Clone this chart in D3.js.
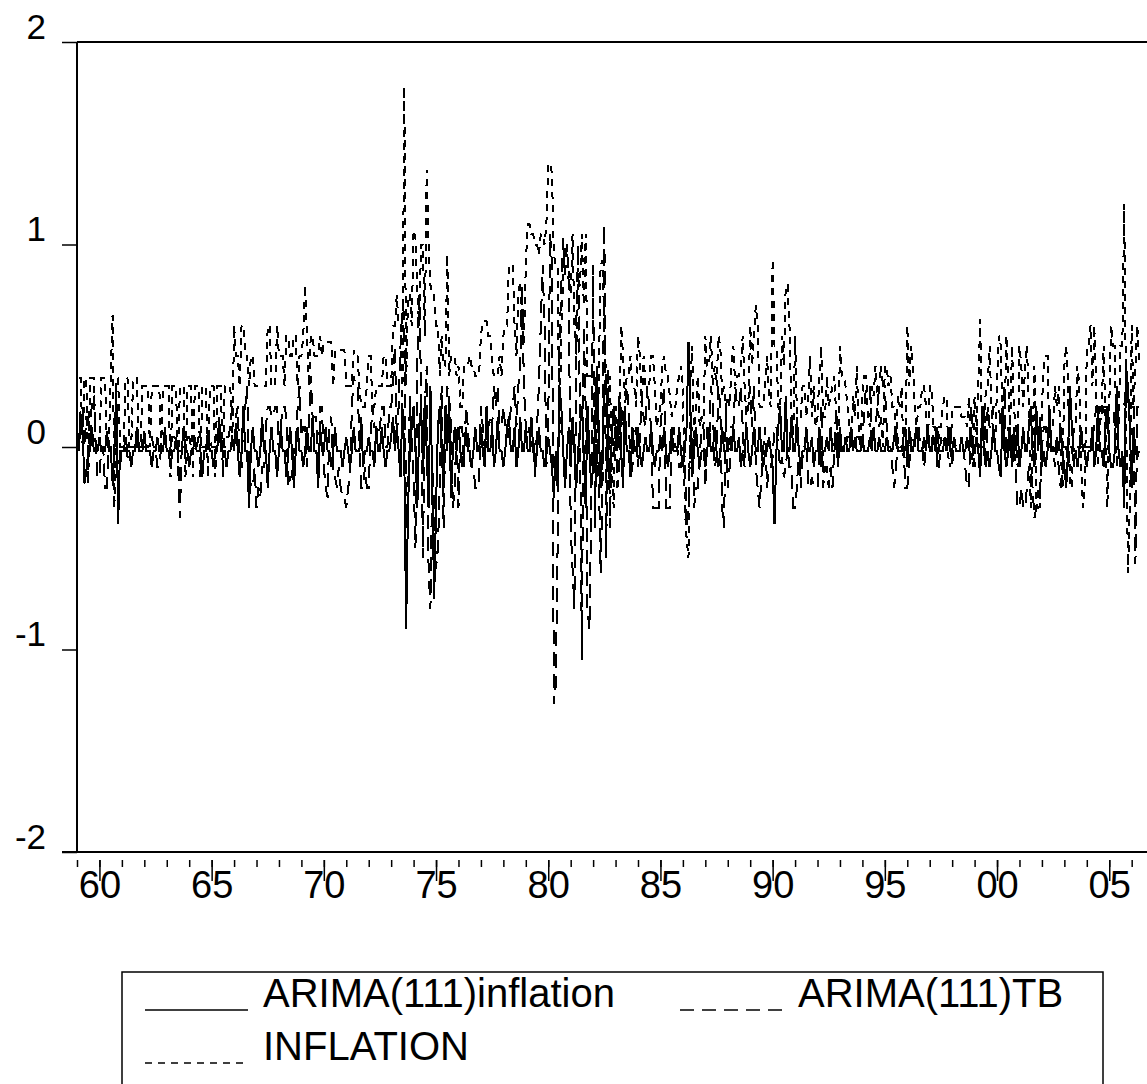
<!DOCTYPE html>
<html>
<head>
<meta charset="utf-8">
<script src="https://cdn.jsdelivr.net/npm/d3@7"></script>
<style>
body { margin: 0; background: #fff; }
text { font-family: "Liberation Sans", Arial, sans-serif; fill: #000; }
</style>
</head>
<body>
<svg id="chart" width="1147" height="1084"></svg>
<script>
// monthly data, one row per year, first row 1959 starts in February
var firstYear = 1959;

var inflation = [
  [.34,.34,0,.34,.34,-.18,.34,.34,.34,0,0],
  [0,.34,.34,.34,0,0,.34,.65,-.3,.34,.34,0],
  [0,0,.34,.34,0,0,.34,.34,.34,0,0,.3],
  [.3,.3,.3,0,.3,.3,.3,.3,.3,0,.3,.3],
  [.3,.3,-.15,.3,.3,.3,-.15,.3,.3,.3,-.15,.3],
  [.3,.3,-.15,.3,.3,.3,-.15,.3,.3,.3,-.15,.3],
  [.3,.3,-.15,.3,.3,.3,-.15,.3,.3,.3,.3,0],
  [.6,.45,.45,.3,.6,.6,.45,.45,.3,.45,.45,.3],
  [.3,.3,.3,.3,.3,.3,.6,.6,.3,.3,.3,.6],
  [.45,.45,.45,.3,.55,.55,.45,.45,.55,.55,.3,.45],
  [.45,.55,.8,.55,.3,.55,.55,.45,.45,.45,.55,.45],
  [.52,.52,.52,.52,.52,.3,.48,.48,.48,.48,.48,.48],
  [.3,.3,.3,.3,.48,.45,.45,.3,.2,.2,.2,.3],
  [.45,.45,.2,.2,.3,.3,.3,.3,.45,.45,.3,.3],
  [.3,.6,.6,.75,.6,.6,.2,1.78,.3,.75,.75,.6],
  [1.07,1.03,.75,.6,1,1,.55,1.37,1,.8,.75,.75],
  [.6,.6,.35,.55,.4,.4,.95,.35,.45,.45,.45,.35],
  [.4,.2,.2,.4,.4,.4,.45,.4,.4,.35,.35,.35],
  [.55,.62,.62,.62,.55,.55,.4,.35,.35,.35,.45,.35],
  [.55,.6,.6,.9,.9,.9,.6,.45,.75,.82,.6,.5],
  [.9,1.1,1.1,1.05,1.05,1,1,.95,1.05,1.05,1,1.1],
  [1.4,1.4,1.35,.95,.9,.9,.05,.6,.85,1,1,.85],
  [.75,1.05,.6,.45,.8,.8,1.05,.7,1.05,.35,.35,.35],
  [.35,.35,-.15,.3,.9,.92,.6,.3,.25,.35,-.1,-.3],
  [.2,0,.1,.6,.45,.25,.35,.35,.45,.3,.3,.2],
  [.55,.45,.2,.45,.3,.3,.3,.45,.45,.3,.1,.15],
  [.2,.4,.45,.35,.35,.25,.15,.2,.2,.3,.35,.4],
  [.3,-.3,-.45,-.55,.3,.5,0,.2,.35,.1,.15,.1],
  [.55,.4,.4,.55,.3,.4,.3,.55,.5,.25,.3,.2],
  [.25,.2,.4,.5,.3,.35,.35,.4,.55,.3,.15,.2],
  [.6,.4,.55,.7,.6,.2,.2,.2,.3,.45,.25,.2],
  [.93,.5,.5,.2,.15,.55,.4,.8,.8,.6,.2,.05],
  [.55,.15,.15,.15,.3,.3,.15,.25,.45,.15,.3,.1],
  [.15,.35,.5,.15,.15,.35,.2,.25,.3,.35,.15,-.05],
  [.5,.35,.35,.3,.2,.1,0,.25,.15,.4,.1,0],
  [.25,.35,.35,.15,.1,.3,.25,.4,.25,.1,.15,0],
  [.4,.4,.3,.35,.2,.2,0,.25,.2,.3,-.05,-.05],
  [.6,.3,.5,.4,.2,.1,.2,.2,.3,.3,.2,0],
  [.3,.3,.1,.1,-.1,.1,.1,.2,.25,.25,-.05,-.1],
  [.2,.2,.2,.2,.2,.15,.15,.15,.1,.25,0,-.1],
  [.25,.1,.3,.63,0,0,.3,.3,.5,.2,.05,0],
  [.3,.55,.5,.1,.1,.55,.3,.1,.5,.2,.1,-.1],
  [.5,.4,.2,.4,.5,.2,-.3,0,.4,-.3,-.2,-.3],
  [.2,.4,.45,.45,0,.1,.1,.3,.2,.3,0,-.2],
  [.4,.5,.3,-.2,-.2,.1,.1,.4,.3,-.1,-.3,-.2],
  [.5,.5,.6,.3,.6,.3,-.1,.1,.2,.5,.1,-.3],
  [.2,.6,.5,.5,-.1,.1,.5,.5,1.2,.2,-.62,-.3],
  [.6,.2,.4,.6,.4]
];

var arimaTB = [
  [0,.2,.2,0,.15,.15,0,.25,.25,0,-.15],
  [-.15,0,0,-.2,-.2,0,0,-.2,0,0,-.1,-.1],
  [0,0,0,-.05,-.05,0,0,0,0,.05,.05,0],
  [0,0,0,.05,.05,0,0,-.1,-.1,0,0,0],
  [0,0,0,.05,.05,0,0,-.35,0,0,0,.05],
  [.05,0,0,0,0,.05,.05,0,0,0,.05,.05],
  [0,0,0,0,.05,.05,0,0,.05,.05,.1,.2],
  [.15,.15,.2,-.1,-.1,.15,.2,.3,-.1,-.2,-.2,-.1],
  [-.3,-.2,-.25,-.1,-.1,.1,.2,.2,.15,.15,.2,.2],
  [-.05,.1,.2,.2,.15,-.2,-.15,-.15,0,0,.2,.3],
  [.05,.1,.1,-.1,.1,.35,.15,.15,.15,-.2,.2,.2],
  [-.1,-.2,-.25,.1,.15,-.15,-.15,-.2,-.1,-.2,-.25,-.25],
  [-.3,-.2,-.15,.2,.35,.3,.3,.05,-.2,-.2,-.1,-.2],
  [-.2,.05,.2,.1,.1,.05,.1,.2,.2,0,0,.2],
  [.2,.3,.5,.05,.2,.5,.7,.65,-.4,-.3,.25,.05],
  [-.15,-.5,.45,.75,.3,-.55,.2,.4,-.6,-.8,-.1,-.3],
  [-.6,-.5,-.2,.3,-.4,.1,.3,.25,.1,-.3,-.2,.1],
  [-.3,.1,.1,-.1,.2,.1,-.05,-.1,-.1,-.2,-.2,-.2],
  [.2,.1,0,0,.1,.15,.1,.3,.2,.3,.1,.1],
  [.2,.1,.05,.05,.2,.2,.3,.1,.3,.4,.8,.3],
  [.1,.05,.1,0,.05,-.15,.1,.3,.6,.9,.6,-.1],
  [.1,1.05,.9,-1.27,-1.18,-.5,.5,.8,1.03,.85,1,.8],
  [-.4,-.6,-.8,.6,1,.1,-1.05,.6,.2,-.8,-.9,-.3],
  [.9,-.4,.3,-.1,-.62,-.2,1.1,-.55,.4,-.4,.1,-.05],
  [.1,-.2,-.1,.2,.1,.2,.3,.2,-.15,-.1,.05,.1],
  [-.1,.05,.25,.15,.1,.3,.2,.1,-.3,-.3,-.3,-.3],
  [.1,.2,.3,-.3,-.3,-.3,.05,.1,0,0,-.1,-.1],
  [0,-.05,-.4,-.3,.05,.1,-.3,-.2,-.2,-.05,.1,.1],
  [-.2,.1,0,.3,.2,-.1,-.05,.3,.2,-.3,-.4,.2],
  [-.2,-.1,.1,.1,.3,.2,.2,.3,.1,-.1,.2,.2],
  [.3,.1,.3,-.1,-.2,-.3,-.15,0,.1,-.2,-.1,-.1],
  [-.05,.1,.1,0,-.1,-.05,-.15,-.1,0,-.1,-.1,-.3],
  [-.3,-.2,0,-.2,-.05,0,.05,-.2,-.2,-.15,-.2,-.2],
  [-.2,0,.2,-.2,-.1,-.1,-.2,-.1,-.2,0,.2,-.1],
  [0,0,0,0,.05,.05,0,0,0,.05,.05,0],
  [0,.2,.3,.3,.3,0,.1,.1,.2,.3,.4,.3],
  [.3,.1,0,0,-.1,-.2,-.1,.05,0,0,0,-.2],
  [-.2,-.1,.05,0,0,.1,.1,0,0,-.1,0,0],
  [0,0,.1,.1,-.1,-.1,.05,0,0,0,.05,.1],
  [-.1,.05,0,0,0,0,0,-.1,-.2,-.2,.2,.1],
  [-.1,.1,0,0,.1,.2,-.1,.2,.1,.1,.2,.2],
  [.2,.2,.1,.1,.3,-.1,.1,0,-.1,0,-.1,-.3],
  [-.3,-.2,-.3,-.3,-.2,-.1,-.1,-.2,-.35,-.3,-.3,-.2],
  [0,.1,.1,0,0,0,0,-.1,0,-.1,-.2,-.1],
  [0,0,-.1,0,0,-.1,0,0,0,0,0,0],
  [0,0,0,.05,.1,.2,.15,.2,.15,.2,.2,.2],
  [.2,.2,.2,.1,.1,.2,.2,.2,.2,.3,.2,.2],
  [.2,.2,-.58,.2,.2]
];

var arimaInflation = [
  [-.02,.16,.08,-.18,-.12,-.02,-.02,.1,-.02,-.02,-.02],
  [.05,-.02,-.02,-.02,.08,-.02,-.02,-.15,-.02,.3,-.38,-.02],
  [-.02,-.02,.05,-.02,-.02,-.1,-.02,-.02,.1,-.02,-.02,-.02],
  [.08,-.02,-.02,-.02,-.1,-.02,-.02,.05,-.02,-.02,-.02,.1],
  [-.02,-.02,-.1,-.02,-.02,.05,-.02,-.02,-.02,.1,-.02,-.02],
  [-.1,-.02,-.02,.05,-.02,-.02,-.02,-.15,-.02,-.02,.08,-.02],
  [-.02,-.1,-.02,-.02,.15,-.02,-.02,-.02,-.1,-.02,-.02,.05],
  [-.02,.12,-.02,-.15,-.02,.2,-.02,-.02,-.3,-.02,.1,-.02],
  [-.02,-.1,-.02,.15,-.02,-.02,-.2,-.02,.1,-.02,-.02,-.15],
  [-.02,.1,-.02,-.02,-.15,-.02,.1,-.02,-.2,-.02,.1,-.02],
  [-.02,-.1,-.02,.1,-.02,-.02,.15,-.02,-.02,-.2,.1,-.02],
  [-.02,.1,-.02,-.02,-.1,-.02,.1,-.02,-.02,-.02,-.1,-.02],
  [.05,-.02,-.1,-.02,.1,-.02,-.02,-.02,.15,-.1,-.02,-.02],
  [.05,-.02,-.02,-.1,.1,-.02,-.02,.1,-.02,-.1,-.02,-.02],
  [.05,.15,-.02,.1,-.02,-.15,.2,-.02,-.9,-.3,-.02,.1],
  [.2,-.02,-.3,.1,.2,-.1,.25,-.02,-.3,.3,-.2,-.75],
  [-.3,.1,.2,-.02,-.2,.2,-.02,.25,-.25,-.02,.1,-.02],
  [.1,-.02,-.1,-.02,.1,-.02,-.02,-.1,-.02,.1,-.02,-.02],
  [.1,-.02,-.1,.2,-.02,-.02,.1,-.1,-.02,.15,-.02,-.02],
  [-.1,-.02,.1,.15,-.02,-.02,.1,-.1,-.02,.15,-.02,-.02],
  [.1,-.02,-.02,.15,-.02,-.1,-.02,.1,-.02,-.02,-.1,-.02],
  [.05,-.02,-.1,-.25,-.02,-.2,.3,.2,-.02,-.2,-.02,.1],
  [-.1,.15,-.02,-.2,-.02,.1,.2,-.02,-.3,.2,-.02,-.2],
  [-.1,.1,.4,.1,-.2,-.02,.3,.35,-.02,-.2,.05,.2],
  [.1,-.02,.25,-.02,-.2,.2,-.02,-.02,-.15,.1,-.02,-.02],
  [.1,-.02,-.1,-.02,.05,-.02,-.02,.1,-.02,-.1,-.02,-.02],
  [.05,-.02,.1,-.02,-.1,-.02,.1,-.02,-.02,-.02,.1,-.02],
  [-.1,-.02,.1,.52,.2,-.15,-.02,.1,-.02,-.1,-.02,-.02],
  [-.1,-.02,.1,-.02,-.02,.1,-.02,-.1,-.02,.1,-.02,-.02],
  [-.02,.05,-.02,.1,-.02,-.02,.05,-.1,-.02,-.02,.1,-.02],
  [-.1,-.02,.1,-.02,-.02,.1,-.02,-.1,-.02,-.02,.05,-.02],
  [-.1,-.38,-.02,.1,.2,-.02,-.02,.25,-.02,-.02,.15,-.02],
  [-.02,.15,-.02,-.1,-.02,-.02,.1,-.02,-.02,.05,-.1,-.02],
  [-.02,.1,-.1,-.02,-.02,.05,-.02,.1,-.02,-.02,.05,-.1],
  [.1,-.02,-.02,.05,-.02,-.02,.1,-.02,.05,-.02,-.02,-.02],
  [.05,-.02,-.02,-.02,.05,-.02,.1,-.02,-.02,.05,-.02,-.02],
  [-.02,.05,-.02,-.02,-.02,.05,.1,-.02,-.02,-.02,.05,.1],
  [-.1,.1,-.02,-.02,.05,.1,-.02,-.02,-.02,.05,-.02,.1],
  [-.02,-.02,.05,-.02,.1,-.02,-.02,-.02,.05,-.02,.1,-.02],
  [-.02,.05,-.02,-.02,-.02,.05,-.02,-.02,.05,-.02,.1,-.02],
  [-.02,.05,-.02,-.15,.2,-.02,-.1,-.02,-.1,-.02,.1,-.02],
  [-.02,-.1,-.15,.2,-.02,-.1,-.02,.1,-.1,.1,-.02,.1],
  [-.1,-.02,.1,-.02,-.02,.1,.2,-.02,-.1,.2,-.02,.15],
  [-.1,-.02,-.1,-.02,.2,-.02,-.02,-.02,.05,-.02,.1,-.02],
  [-.1,-.2,-.02,.3,.1,-.02,-.02,-.1,-.02,.1,-.02,-.02],
  [-.1,-.02,-.02,.1,-.1,-.02,.2,-.02,-.02,-.1,.1,.2],
  [-.02,-.1,-.1,-.02,.3,-.02,-.1,-.02,-.3,.4,.3,.1],
  [-.2,.1,-.02,-.05,-.02]
];

var yTicks = [-2, -1, 0, 1, 2];
var minorYears = d3.range(1959, 2007);
var majorYears = d3.range(1960, 2006, 5);

var series = [
  {name: "ARIMA(111)inflation", data: arimaInflation, dash: null},
  {name: "ARIMA(111)TB", data: arimaTB, dash: "14,8"},
  {name: "INFLATION", data: inflation, dash: "7,6"}
];

var svg = d3.select("#chart");

var x = d3.scaleLinear().domain([1959, 2007]).range([77, 77 + 48 * 22.44]);
var y = d3.scaleLinear().domain([-2, 2]).range([852, 42]);

// turn the rows into dated points (first row ends in December)
function points(rows) {
  var out = [];
  rows.forEach(function(row, r) {
    var m0 = (r == 0) ? 12 - row.length : 0;
    row.forEach(function(v, i) {
      out.push({t: firstYear + r + (m0 + i) / 12, v: v});
    });
  });
  return out;
}

// frame
svg.append("line").attr("x1", 77).attr("x2", 1147).attr("y1", y(2)).attr("y2", y(2))
  .attr("stroke", "#000").attr("stroke-width", 2);
svg.append("line").attr("x1", 62).attr("x2", 1147).attr("y1", y(-2)).attr("y2", y(-2))
  .attr("stroke", "#000").attr("stroke-width", 2);

// y axis, labels sit just above their tick
var yAxis = svg.append("g").attr("transform", "translate(77,0)")
  .call(d3.axisLeft(y).tickValues(yTicks).tickSize(15).tickFormat(function(d) { return String(d); }));
yAxis.select(".domain").attr("stroke-width", 2).attr("d", "M0," + y(2) + "V" + y(-2));
yAxis.selectAll(".tick line").attr("stroke-width", 1.5);
yAxis.selectAll(".tick text").attr("x", -31).attr("dy", "-4px")
  .style("font-size", "35px").style("font-family", "'Liberation Sans', Arial, sans-serif");

// x axis: minor and labelled ticks hang a little below the frame
var xMinor = svg.append("g").attr("transform", "translate(0,860)")
  .call(d3.axisBottom(x).tickValues(minorYears).tickSize(7).tickFormat(""));
xMinor.select(".domain").remove();
xMinor.selectAll(".tick line").attr("stroke-width", 1.5);

var xMajor = svg.append("g").attr("transform", "translate(0,860)")
  .call(d3.axisBottom(x).tickValues(majorYears).tickSize(21)
    .tickFormat(function(d) { return d3.format("02d")(d % 100); }));
xMajor.select(".domain").remove();
xMajor.selectAll(".tick line").attr("stroke-width", 1.5);
xMajor.selectAll(".tick text").attr("y", 38).attr("dy", 0)
  .style("font-size", "38px").style("font-family", "'Liberation Sans', Arial, sans-serif");

// series, drawn without smoothing like the original bitmap
var line = d3.line().x(function(d) { return x(d.t); }).y(function(d) { return y(d.v); });

svg.append("g").selectAll("path")
  .data(series.slice().reverse())
  .enter().append("path")
  .attr("d", function(d) { return line(points(d.data)); })
  .attr("fill", "none")
  .attr("stroke", "#000")
  .attr("stroke-width", 2)
  .attr("shape-rendering", "crispEdges")
  .attr("stroke-dasharray", function(d) { return d.dash; });

// legend
var lg = svg.append("g");
lg.append("rect").attr("x", 122).attr("y", 972).attr("width", 981).attr("height", 140)
  .attr("fill", "none").attr("stroke", "#000").attr("stroke-width", 1.5);

var legendPos = [[145, 1007], [680, 1007], [145, 1060]];
series.forEach(function(s, i) {
  var p = legendPos[i];
  lg.append("line").attr("x1", p[0]).attr("x2", p[0] + 103).attr("y1", p[1] + 3).attr("y2", p[1] + 3)
    .attr("stroke", "#000").attr("stroke-width", 1.5).attr("stroke-dasharray", s.dash);
  lg.append("text").attr("x", p[0] + 118).attr("y", p[1]).style("font-size", "40px").text(s.name);
});
</script>
</body>
</html>
